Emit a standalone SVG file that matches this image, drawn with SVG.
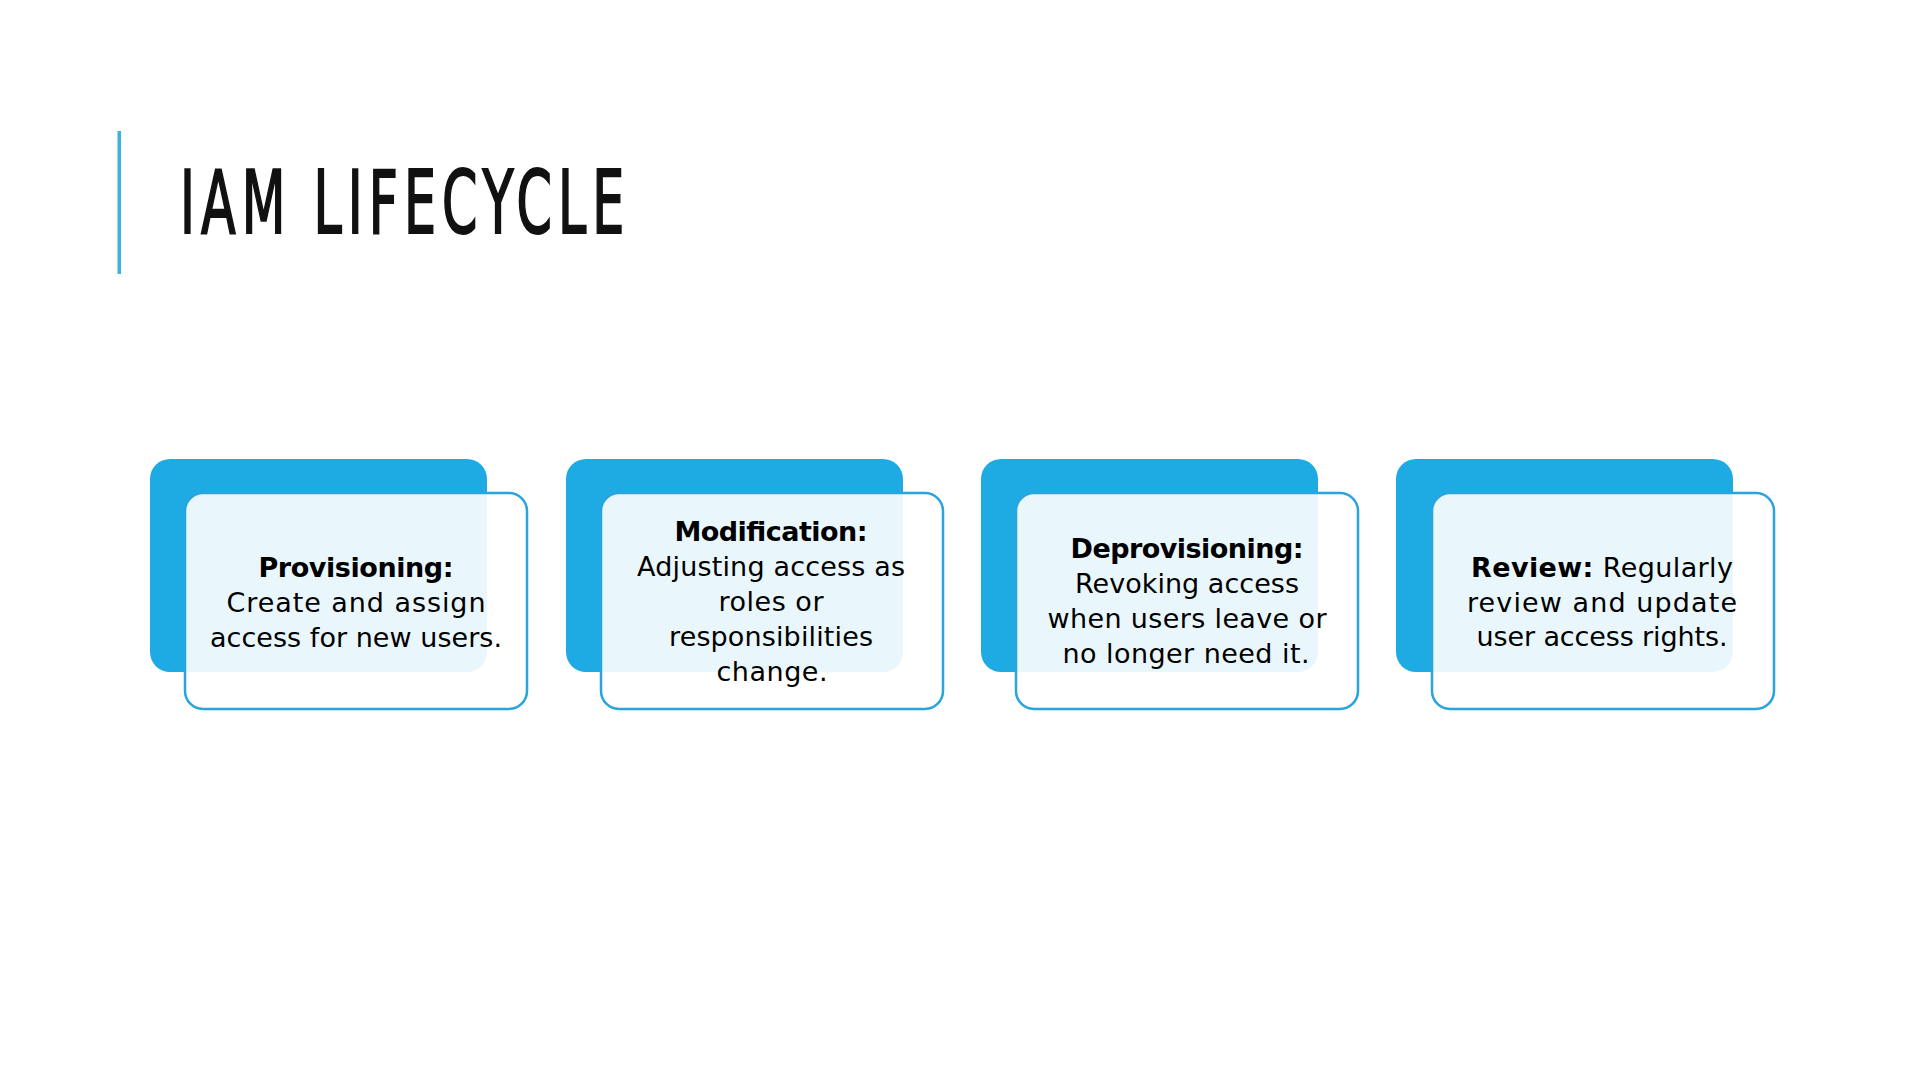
<svg xmlns="http://www.w3.org/2000/svg" width="1920" height="1080" viewBox="0 0 1920 1080">
<style>
.back{fill:#1eabe3}
.front{fill:#ffffff;fill-opacity:0.9;stroke:#29a5dc;stroke-width:2.5}
.t{font-family:"DejaVu Sans","Liberation Sans",sans-serif;font-size:27px;fill:#000;text-anchor:middle}
.b{font-weight:bold}
.title{font-family:"Liberation Sans Narrow","DejaVu Sans Condensed","Liberation Sans",sans-serif;font-size:88px;fill:#111;stroke:#111;stroke-width:2}
</style>
<rect width="1920" height="1080" fill="#ffffff"/>
<g id="title">
<rect x="117.5" y="131" width="3.5" height="143" fill="#3db2e2"/>
<text class="title" transform="translate(180 233) scale(0.64 1)" x="0" y="0" textLength="694" lengthAdjust="spacing">IAM LIFECYCLE</text>
</g>
<g id="connectors"></g>
<g id="card-provisioning">
<rect class="back" x="150" y="459" width="337" height="213" rx="20"/>
<rect class="front" x="185" y="493" width="342" height="216" rx="18"/>
<text class="t b" x="356" y="577" textLength="195">Provisioning:</text>
<text class="t" x="356" y="612" textLength="259">Create and assign</text>
<text class="t" x="356" y="647" textLength="292">access for new users.</text>
</g>
<g id="card-modification">
<rect class="back" x="566" y="459" width="337" height="213" rx="20"/>
<rect class="front" x="601" y="493" width="342" height="216" rx="18"/>
<text class="t b" x="771" y="541" textLength="193">Modification:</text>
<text class="t" x="771" y="576" textLength="268">Adjusting access as</text>
<text class="t" x="771" y="611" textLength="105">roles or</text>
<text class="t" x="771" y="646" textLength="204">responsibilities</text>
<text class="t" x="772" y="681" textLength="111">change.</text>
</g>
<g id="card-deprovisioning">
<rect class="back" x="981" y="459" width="337" height="213" rx="20"/>
<rect class="front" x="1016" y="493" width="342" height="216" rx="18"/>
<text class="t b" x="1187" y="558" textLength="233">Deprovisioning:</text>
<text class="t" x="1187" y="593" textLength="224">Revoking access</text>
<text class="t" x="1187" y="628" textLength="279">when users leave or</text>
<text class="t" x="1186" y="663" textLength="247">no longer need it.</text>
</g>
<g id="card-review">
<rect class="back" x="1396" y="459" width="337" height="213" rx="20"/>
<rect class="front" x="1432" y="493" width="342" height="216" rx="18"/>
<text class="t" x="1602" y="577" textLength="262"><tspan class="b">Review:</tspan> Regularly</text>
<text class="t" x="1602" y="612" textLength="270">review and update</text>
<text class="t" x="1602" y="646" textLength="251">user access rights.</text>
</g>
</svg>
